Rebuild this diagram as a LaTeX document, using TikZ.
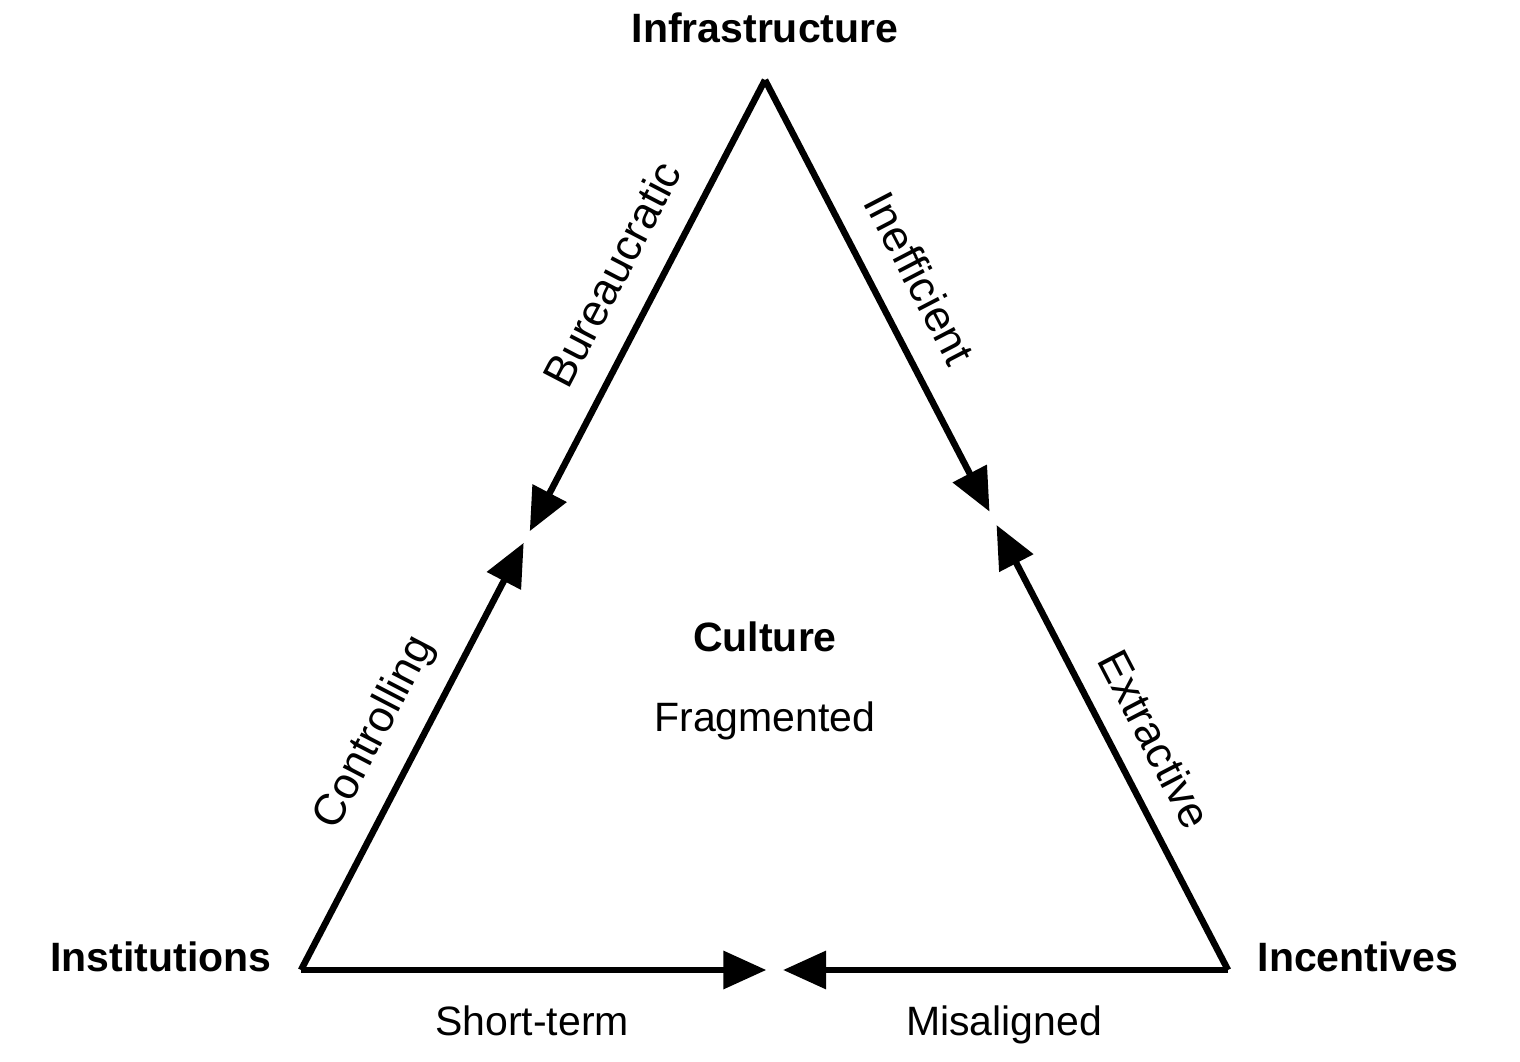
\documentclass[tikz,border=0pt]{standalone}
\usepackage{fontspec}
\setmainfont{Liberation Sans}
\usetikzlibrary{arrows.meta, calc}

\tikzset{
  flow/.style={-{Triangle[length=43pt, width=37pt]}, line width=6.5pt},
  corner/.style={font=\fontsize{41}{45}\selectfont\bfseries, anchor=base},
  edgelabel/.style={font=\fontsize{41}{45}\selectfont},
  sidelabel/.style={font=\fontsize{44}{48}\selectfont},
}

\begin{document}
\begin{tikzpicture}[x=1pt,y=1pt]
  \path[use as bounding box] (0,0) rectangle (1520,1062);
  % vertices
  \coordinate (top) at (765,982);
  \coordinate (left) at (301,92);
  \coordinate (right) at (1228,92);
  % where the arrows meet
  \coordinate (lt) at ($(top)!0.507!(left)$);
  \coordinate (lb) at ($(left)!0.48!(top)$);
  \coordinate (rt) at ($(top)!0.485!(right)$);
  \coordinate (rb) at ($(right)!0.5!(top)$);
  \coordinate (bl) at ($(left)!0.502!(right)$);
  \coordinate (br) at ($(right)!0.48!(left)$);

  \draw[flow] (top) -- (lt);
  \draw[flow] (left) -- (lb);
  \draw[flow] (top) -- (rt);
  \draw[flow] (right) -- (rb);
  \draw[flow] (left) -- (bl);
  \draw[flow] (right) -- (br);

  \node[corner] (infra) at (765,1019) {Infrastructure};
  \node[corner] (inst) at (161,90) {Institutions};
  \node[corner] (incent) at (1358,90) {Incentives};
  \node[corner] (culture) at (765,410) {Culture};
  \node[edgelabel, anchor=base] (frag) at (765,330) {Fragmented};

  \node[sidelabel, rotate=62.5] (bureau) at (612,788) {Bureaucratic};
  \node[sidelabel, rotate=-62.5] (ineff) at (920,784) {Inefficient};
  \node[sidelabel, rotate=62.5] (control) at (375,329) {Controlling};
  \node[sidelabel, rotate=-62.5] (extract) at (1155,323) {Extractive};
  \node[edgelabel, anchor=base] (short) at (532,26) {Short-term};
  \node[edgelabel, anchor=base] (misal) at (1004,26) {Misaligned};
\end{tikzpicture}
\end{document}
